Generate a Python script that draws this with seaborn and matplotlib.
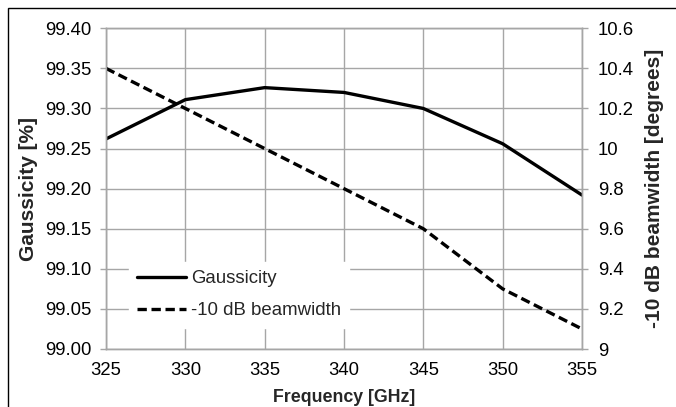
import matplotlib
matplotlib.use("Agg")
import matplotlib.pyplot as plt
import seaborn as sns
import pandas as pd
from matplotlib.patches import Rectangle
from matplotlib.ticker import FuncFormatter

frequency = [325, 330, 335, 340, 345, 350, 355]
gaussicity = [99.262, 99.311, 99.326, 99.320, 99.300, 99.256, 99.192]
beamwidth = [10.4, 10.2, 10.0, 9.8, 9.6, 9.3, 9.1]
x_ticks = [325, 330, 335, 340, 345, 350, 355]
left_ticks = [99.00, 99.05, 99.10, 99.15, 99.20, 99.25, 99.30, 99.35, 99.40]
right_ticks = [9.0, 9.2, 9.4, 9.6, 9.8, 10.0, 10.2, 10.4, 10.6]

sns.set_theme(style="white")
plt.rcParams['font.family'] = ['Liberation Sans', 'DejaVu Sans']

df = pd.DataFrame({"f": frequency, "g": gaussicity, "b": beamwidth})

fig = plt.figure(figsize=(6.76, 4.07), dpi=100)
ax = fig.add_axes([106/676, 1-349/407, (582-106)/676, (349-28.3)/407])
ax2 = ax.twinx()

grid_c = "#a6a6a6"
sns.lineplot(data=df, x="f", y="g", ax=ax, color="black", lw=2.4, label="Gaussicity", legend=False)
sns.lineplot(data=df, x="f", y="b", ax=ax2, color="black", lw=2.4, linestyle=(0, (2.8, 1.4)),
             label="-10 dB beamwidth", legend=False)

ax.set_xlim(325, 355)
ax.set_ylim(99.0, 99.4)
ax2.set_ylim(9.0, 10.6)
ax.set_xticks(x_ticks)
ax.set_yticks(left_ticks)
ax2.set_yticks(right_ticks)
ax.yaxis.set_major_formatter(FuncFormatter(lambda v, p: f"{v:.2f}"))
ax2.yaxis.set_major_formatter(FuncFormatter(lambda v, p: f"{v:g}"))

ax.grid(True, color=grid_c, lw=1)
ax.set_axisbelow(True)
for a in (ax, ax2):
    for s in a.spines.values():
        s.set_color(grid_c)
        s.set_linewidth(1)
    a.tick_params(axis="both", colors=grid_c, labelcolor="black", labelsize=13.3,
                  direction="out", length=4.3, width=1)
ax.tick_params(axis="x", pad=5)
ax.tick_params(axis="y", pad=6)
ax2.tick_params(axis="y", left=False, right=True, pad=7)

ax.set_xlabel("Frequency [GHz]", fontsize=12.8, fontweight="bold", labelpad=7)
ax.set_ylabel("Gaussicity [%]", fontsize=15, fontweight="bold", labelpad=5)
ax2.set_ylabel("-10 dB beamwidth [degrees]", fontsize=15, fontweight="bold", labelpad=8)

h1, l1 = ax.get_legend_handles_labels()
h2, l2 = ax2.get_legend_handles_labels()
leg = ax2.legend(h1 + h2, l1 + l2, loc="upper left",
                 bbox_to_anchor=((129-106)/476, (349-262)/321),
                 frameon=True, facecolor="white", edgecolor="white", framealpha=1,
                 fontsize=13.4, handlelength=2.6, handletextpad=0.27, labelspacing=0.8,
                 borderpad=0.45, borderaxespad=0, fancybox=False)

fig.add_artist(Rectangle((8/676, -0.5), 2, 1.5 - 8/407, transform=fig.transFigure,
                         fill=False, edgecolor="black", lw=1))

fig.savefig("out.png", dpi=100)
